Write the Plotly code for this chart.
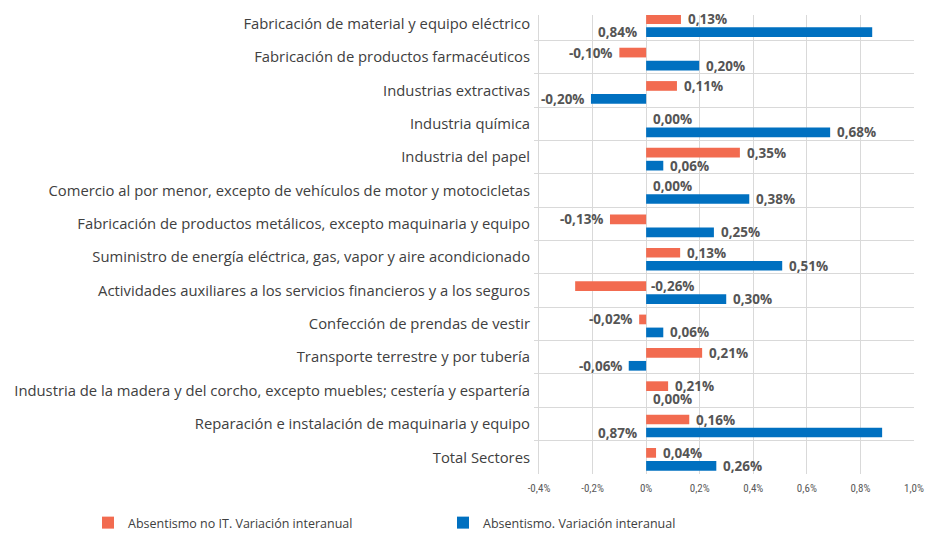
import plotly.graph_objects as go

categories = [
    "Fabricación de material y equipo eléctrico",
    "Fabricación de productos farmacéuticos",
    "Industrias extractivas",
    "Industria química",
    "Industria del papel",
    "Comercio al por menor, excepto de vehículos de motor y motocicletas",
    "Fabricación de productos metálicos, excepto maquinaria y equipo",
    "Suministro de energía eléctrica, gas, vapor y aire acondicionado",
    "Actividades auxiliares a los servicios financieros y a los seguros",
    "Confección de prendas de vestir",
    "Transporte terrestre y por tubería",
    "Industria de la madera y del corcho, excepto muebles; cestería y espartería",
    "Reparación e instalación de maquinaria y equipo",
    "Total Sectores",
]

# Bar lengths (percentage points) as drawn
no_it_values = [0.13, -0.10, 0.115, 0.0, 0.35, 0.0, -0.135, 0.127, -0.265, -0.026, 0.209, 0.082, 0.161, 0.037]
total_values = [0.844, 0.198, -0.206, 0.687, 0.064, 0.385, 0.253, 0.508, 0.299, 0.064, -0.065, 0.0, 0.881, 0.262]

# Data labels as printed
no_it_labels = ["0,13%", "-0,10%", "0,11%", "0,00%", "0,35%", "0,00%", "-0,13%", "0,13%", "-0,26%", "-0,02%", "0,21%", "0,21%", "0,16%", "0,04%"]
total_labels = ["0,84%", "0,20%", "-0,20%", "0,68%", "0,06%", "0,38%", "0,25%", "0,51%", "0,30%", "0,06%", "-0,06%", "0,00%", "0,87%", "0,26%"]

series_names = ["Absentismo no IT. Variación interanual", "Absentismo. Variación interanual"]
series_colors = ["#F26B50", "#0070C0"]

tick_vals = [-0.4, -0.2, 0, 0.2, 0.4, 0.6, 0.8, 1.0]
tick_text = ["-0,4%", "-0,2%", "0%", "0,2%", "0,4%", "0,6%", "0,8%", "1,0%"]

n = len(categories)
y_top = -0.26
plot_h = 533 - 15 - 59
band_px = plot_h / (n - 0.5 - y_top)
bar_w = 9.7 / band_px
offsets = [-9.3 / band_px, 3.7 / band_px]

fig = go.Figure()
for name, vals, col, off in zip(series_names, [no_it_values, total_values], series_colors, offsets):
    fig.add_trace(go.Bar(
        y=categories, x=vals, name=name, orientation="h",
        width=bar_w, offset=off,
        marker=dict(color=col, line=dict(width=0)),
    ))

label_font = dict(family="Open Sans, Noto Sans, sans-serif", size=13.5, color="#555555")
annotations = []
for vals, labels, off in [(no_it_values, no_it_labels, offsets[0]), (total_values, total_labels, offsets[1])]:
    ysh = -(off + bar_w / 2) * band_px
    for cat, v, lab in zip(categories, vals, labels):
        if v > 0.8:
            x, anchor, xs = 0, "right", -7
        elif v < -0.25:
            x, anchor, xs = 0, "left", 3
        elif v < 0:
            x, anchor, xs = v, "right", -4
        else:
            x, anchor, xs = v, "left", 5
        annotations.append(dict(
            x=x, y=cat, xref="x", yref="y", text="<b>%s</b>" % lab,
            showarrow=False, xanchor=anchor, yanchor="middle",
            xshift=xs, yshift=ysh, font=label_font,
        ))

fig.update_layout(
    width=945, height=533,
    margin=dict(l=539, r=31, t=15, b=59, autoexpand=False),
    plot_bgcolor="white", paper_bgcolor="white",
    barmode="overlay",
    font=dict(family="Open Sans, Noto Sans, sans-serif", size=14.8, color="#404040"),
    xaxis=dict(
        range=[-0.4, 1.0], tickvals=tick_vals, ticktext=tick_text,
        showgrid=True, gridcolor="#D9D9D9", gridwidth=1,
        zeroline=True, zerolinecolor="#D9D9D9", zerolinewidth=1,
        showline=False, ticks="", ticklabelstandoff=6,
        tickfont=dict(family="Liberation Sans Narrow, Roboto Condensed, Roboto, sans-serif", size=11, color="#595959"),
    ),
    yaxis=dict(
        range=[n - 0.5, y_top], tickson="boundaries",
        categoryorder="array", categoryarray=categories,
        showgrid=True, gridcolor="#D9D9D9", gridwidth=1,
        showline=True, linecolor="#D9D9D9", linewidth=1,
        ticks="outside", ticklen=4, tickcolor="#D9D9D9", ticklabelstandoff=5,
        tickfont=dict(family="Open Sans, Noto Sans, sans-serif", size=14.8, color="#404040"),
    ),
    legend=dict(
        orientation="h", xref="paper", yref="paper",
        x=(88 - 539) / 375, y=-(523 - 474) / plot_h, xanchor="left", yanchor="middle",
        entrywidth=310, entrywidthmode="pixels",
        font=dict(family="Open Sans, Noto Sans, sans-serif", size=12.5, color="#404040"),
        bgcolor="rgba(0,0,0,0)",
    ),
    annotations=annotations,
)

fig.write_html("out.html", config={"displayModeBar": False},
               post_script="document.body.style.margin='0px';")
